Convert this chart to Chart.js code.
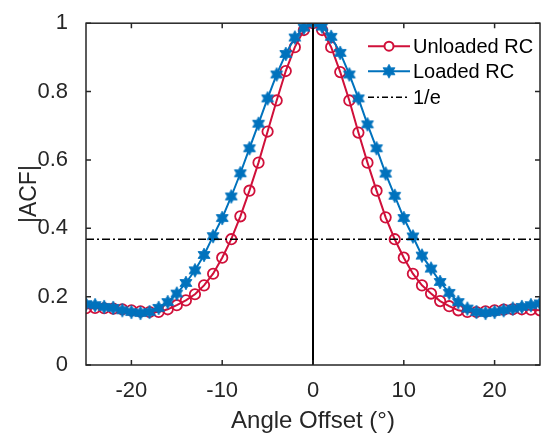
<!DOCTYPE html>
<html>
<head>
<meta charset="utf-8">
<script src="https://cdn.jsdelivr.net/npm/chart.js@4.4.1/dist/chart.umd.min.js"></script>
<style>
  html, body { margin: 0; padding: 0; background: #fff; }
  canvas { display: block; }
</style>
</head>
<body>
<canvas id="acfChart" width="547" height="433"></canvas>
<script>
// angle offset in degrees
var angles = [-25, -24, -23, -22, -21, -20, -19, -18, -17, -16, -15, -14, -13, -12, -11, -10,
    -9, -8, -7, -6, -5, -4, -3, -2, -1, 0, 1, 2, 3, 4, 5, 6, 7, 8, 9,
    10, 11, 12, 13, 14, 15, 16, 17, 18, 19, 20, 21, 22, 23, 24, 25];

var unloadedRC = [0.166, 0.167, 0.166, 0.165, 0.163, 0.160, 0.157, 0.155, 0.155, 0.163, 0.175, 0.189, 0.207, 0.233, 0.267, 0.314,
    0.368, 0.435, 0.510, 0.592, 0.683, 0.774, 0.860, 0.930, 0.980, 1.000, 0.980, 0.930, 0.857, 0.774, 0.680, 0.592, 0.510, 0.432, 0.368,
    0.314, 0.267, 0.233, 0.209, 0.187, 0.172, 0.160, 0.155, 0.155, 0.157, 0.160, 0.162, 0.163, 0.163, 0.162, 0.160];

var loadedRC = [0.178, 0.175, 0.170, 0.167, 0.160, 0.155, 0.152, 0.155, 0.167, 0.184, 0.209, 0.240, 0.277, 0.322, 0.377, 0.430,
    0.493, 0.561, 0.634, 0.706, 0.780, 0.850, 0.910, 0.958, 0.987, 1.000, 0.990, 0.960, 0.913, 0.850, 0.780, 0.704, 0.634, 0.560, 0.495,
    0.430, 0.376, 0.320, 0.282, 0.243, 0.211, 0.184, 0.165, 0.155, 0.152, 0.155, 0.160, 0.165, 0.170, 0.175, 0.180];

var oneOverE = 1 / Math.E;
var xTicks = [-20, -10, 0, 10, 20];
var yTicks = [0, 0.2, 0.4, 0.6, 0.8, 1];
var yTickLabels = ['0', '0.2', '0.4', '0.6', '0.8', '1'];
var legendLabels = ['Unloaded RC', 'Loaded RC', '1/e'];

var red = '#D0103A';
var blue = '#0072BD';
var axisColor = '#262626';

Chart.defaults.font.family = '"Liberation Sans", Arial, sans-serif';

// filled six-pointed star, like matlab's hexagram marker
function makeStar(rOut, rIn, color) {
    var c = document.createElement('canvas');
    var s = Math.ceil(rOut * 2 + 2);
    c.width = s; c.height = s;
    var g = c.getContext('2d');
    g.translate(s / 2, s / 2);
    g.beginPath();
    for (var i = 0; i < 12; i++) {
        var r = i % 2 === 0 ? rOut : rIn;
        var a = -Math.PI / 2 + i * Math.PI / 6;
        if (i === 0) g.moveTo(r * Math.cos(a), r * Math.sin(a));
        else g.lineTo(r * Math.cos(a), r * Math.sin(a));
    }
    g.closePath();
    g.fillStyle = color;
    g.fill();
    g.strokeStyle = color;
    g.lineWidth = 1;
    g.stroke();
    return c;
}
var starImg = makeStar(6.8, 3.7, blue);

function pairs(xs, ys) {
    return xs.map(function (x, i) { return { x: x, y: ys[i] }; });
}

// box round the axes and inward ticks on all four sides
var boxPlugin = {
    id: 'box',
    afterDatasetsDraw: function (chart) {
        var ctx = chart.ctx, a = chart.chartArea;
        var xs = chart.scales.x, ys = chart.scales.y;
        var tl = 5;
        ctx.save();
        ctx.strokeStyle = axisColor;
        ctx.lineWidth = 1.5;
        ctx.strokeRect(a.left, a.top, a.right - a.left, a.bottom - a.top);
        ctx.beginPath();
        xTicks.forEach(function (v) {
            var px = xs.getPixelForValue(v);
            ctx.moveTo(px, a.bottom); ctx.lineTo(px, a.bottom - tl);
            ctx.moveTo(px, a.top); ctx.lineTo(px, a.top + tl);
        });
        yTicks.forEach(function (v) {
            var py = ys.getPixelForValue(v);
            ctx.moveTo(a.left, py); ctx.lineTo(a.left + tl, py);
            ctx.moveTo(a.right, py); ctx.lineTo(a.right - tl, py);
        });
        ctx.stroke();
        ctx.restore();
    }
};

// matlab style legend, line with marker in the middle
var legendPlugin = {
    id: 'matLegend',
    afterDraw: function (chart) {
        var ctx = chart.ctx, a = chart.chartArea;
        var x0 = a.right - 172, x1 = a.right - 130, tx = a.right - 127;
        var rows = [a.top + 23, a.top + 48, a.top + 74];
        var mid = (x0 + x1) / 2;
        ctx.save();
        ctx.font = '20px "Liberation Sans", Arial, sans-serif';
        ctx.textBaseline = 'middle';

        ctx.strokeStyle = red; ctx.lineWidth = 2;
        ctx.beginPath(); ctx.moveTo(x0, rows[0]); ctx.lineTo(x1, rows[0]); ctx.stroke();
        ctx.beginPath(); ctx.arc(mid, rows[0], 4.5, 0, Math.PI * 2); ctx.fillStyle = '#fff'; ctx.fill(); ctx.stroke();

        ctx.strokeStyle = blue;
        ctx.beginPath(); ctx.moveTo(x0, rows[1]); ctx.lineTo(x1, rows[1]); ctx.stroke();
        ctx.drawImage(starImg, mid - starImg.width / 2, rows[1] - starImg.height / 2);

        ctx.strokeStyle = '#000'; ctx.lineWidth = 1.5;
        ctx.setLineDash([6, 3, 2, 3]);
        ctx.beginPath(); ctx.moveTo(x0, rows[2]); ctx.lineTo(x1, rows[2]); ctx.stroke();
        ctx.setLineDash([]);

        ctx.fillStyle = '#000';
        legendLabels.forEach(function (t, i) { ctx.fillText(t, tx, rows[i] + 1); });
        ctx.restore();
    }
};

new Chart(document.getElementById('acfChart').getContext('2d'), {
    type: 'line',
    data: {
        datasets: [
            {
                label: legendLabels[0],
                data: pairs(angles, unloadedRC),
                borderColor: red,
                borderWidth: 2,
                pointStyle: 'circle',
                pointRadius: 5.2,
                pointBorderWidth: 1.8,
                pointBackgroundColor: 'rgba(0,0,0,0)',
                pointBorderColor: red,
                order: 3
            },
            {
                label: legendLabels[1],
                data: pairs(angles, loadedRC),
                borderColor: blue,
                borderWidth: 2,
                pointStyle: starImg,
                order: 2
            },
            {
                label: legendLabels[2],
                data: [{ x: angles[0], y: oneOverE }, { x: angles[angles.length - 1], y: oneOverE }],
                borderColor: '#000',
                borderWidth: 1.5,
                borderDash: [8, 3, 2, 3],
                pointRadius: 0,
                order: 1
            },
            {
                label: 'zero',
                data: [{ x: 0, y: 0 }, { x: 0, y: 1 }],
                borderColor: '#000',
                borderWidth: 2,
                pointRadius: 0,
                order: 0
            }
        ]
    },
    options: {
        responsive: false,
        animation: false,
        layout: {
            padding: { top: 21, right: 2, left: 0, bottom: 0 }
        },
        plugins: {
            legend: { display: false },
            tooltip: { enabled: false }
        },
        scales: {
            x: {
                type: 'linear',
                min: -25,
                max: 25,
                afterBuildTicks: function (scale) {
                    scale.ticks = xTicks.map(function (v) { return { value: v }; });
                },
                afterFit: function (scale) { scale.height = 68; },
                grid: { display: false },
                border: { display: false },
                ticks: { color: axisColor, font: { size: 22 }, padding: 5, maxRotation: 0 },
                title: {
                    display: true,
                    text: 'Angle Offset (°)',
                    color: axisColor,
                    font: { size: 24 },
                    padding: { top: 0, bottom: -3 }
                }
            },
            y: {
                min: 0,
                max: 1,
                afterBuildTicks: function (scale) {
                    scale.ticks = yTicks.map(function (v) { return { value: v }; });
                },
                afterFit: function (scale) { scale.width = 86; },
                grid: { display: false },
                border: { display: false },
                ticks: {
                    color: axisColor,
                    font: { size: 22 },
                    padding: 10,
                    callback: function (v, i) { return yTickLabels[i]; }
                },
                title: {
                    display: true,
                    text: '|ACF|',
                    color: axisColor,
                    font: { size: 23 },
                    padding: { top: 16, bottom: 0 }
                }
            }
        }
    },
    plugins: [boxPlugin, legendPlugin]
});
</script>
</body>
</html>
